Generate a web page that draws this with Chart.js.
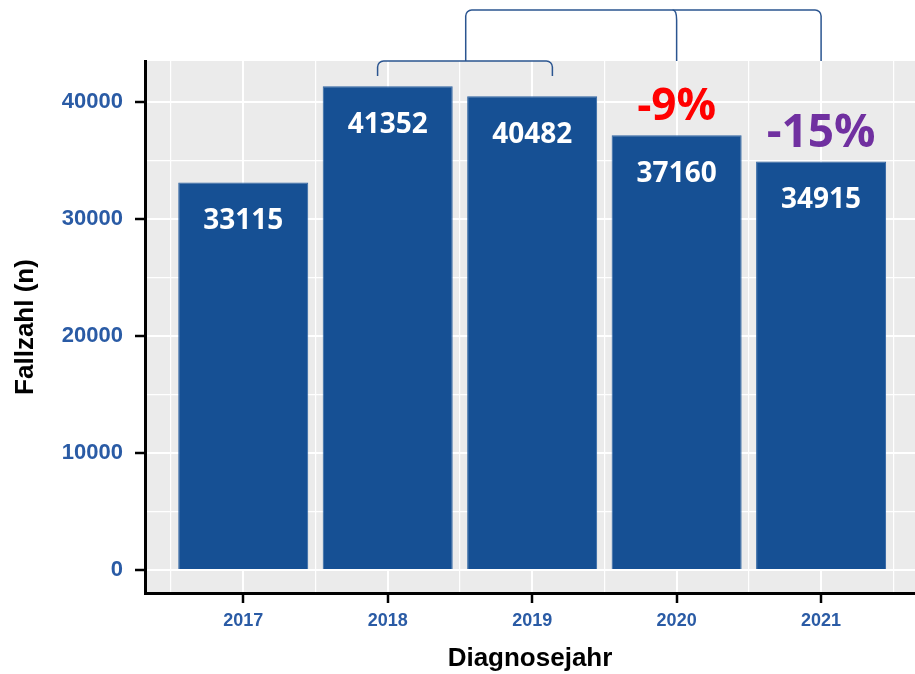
<!DOCTYPE html>
<html>
<head>
<meta charset="utf-8">
<script src="https://cdn.jsdelivr.net/npm/chart.js@4.4.1/dist/chart.umd.min.js"></script>
<style>
  html, body { margin: 0; padding: 0; background: #fff; }
  #wrap { width: 915px; height: 674px; }
</style>
</head>
<body>
<div id="wrap"><canvas id="chart" width="915" height="674"></canvas></div>
<script>
// values
const years = [2017, 2018, 2019, 2020, 2021];
const cases = [33115, 41352, 40482, 37160, 34915];
const changeLabels = ['', '', '', '-9%', '-15%'];
const yTickLabels = [0, 10000, 20000, 30000, 40000];
// brackets above the bars, in year units
const lowerBracket = [2017.93, 2019.14];
const upperBracket = [2018.54, 2020, 2021];

const BLUE = '#165094';
const TICK_BLUE = '#2A5BA5';
const changeColors = { '-9%': '#FF0000', '-15%': '#7030A0' };
const changeSizes = { '-9%': 44, '-15%': 46 };

// major ticks + half-way minor grid lines (ggplot style)
function withMinor(major, step) {
  const out = [];
  major.forEach(v => { out.push(v - step / 2, v); });
  out.push(major[major.length - 1] + step / 2);
  return out;
}
const xGrid = withMinor(years, 1);
const yGrid = withMinor(yTickLabels, 10000).filter(v => v >= 0 && v <= 40000);

const isMajorX = v => years.includes(v);
const isMajorY = v => yTickLabels.includes(v);

// grey panel
const panelBg = {
  id: 'panelBg',
  beforeDraw(chart) {
    const { ctx, chartArea: a } = chart;
    ctx.save();
    ctx.fillStyle = '#EBEBEB';
    ctx.fillRect(a.left, a.top, a.right - a.left, a.bottom - a.top);
    ctx.restore();
  }
};

// numbers inside bars and percentage labels above
const barLabels = {
  id: 'barLabels',
  afterDatasetsDraw(chart) {
    const ctx = chart.ctx;
    const meta = chart.getDatasetMeta(0);
    ctx.save();
    ctx.textAlign = 'center';
    ctx.textBaseline = 'middle';
    meta.data.forEach((bar, i) => {
      ctx.fillStyle = '#fff';
      ctx.font = 'bold 28px "Open Sans"';
      ctx.fillText(String(cases[i]), bar.x, bar.y + 39);
      const lab = changeLabels[i];
      if (lab) {
        ctx.fillStyle = changeColors[lab];
        ctx.font = 'bold ' + changeSizes[lab] + 'px "Open Sans"';
        ctx.fillText(lab, bar.x, bar.y - 28);
      }
    });
    ctx.restore();
  }
};

// brackets above the panel
const brackets = {
  id: 'brackets',
  afterDraw(chart) {
    const { ctx, chartArea } = chart;
    const x = chart.scales.x;
    const yl = chartArea.top;
    const yTop = 10;
    const r = 6;
    ctx.save();
    ctx.strokeStyle = '#2B5590';
    ctx.lineWidth = 1.5;
    ctx.lineJoin = 'round';

    const a = x.getPixelForValue(lowerBracket[0]);
    const b = x.getPixelForValue(lowerBracket[1]);
    ctx.beginPath();
    ctx.moveTo(a, yl + 15);
    ctx.arcTo(a, yl, a + 12, yl, r);
    ctx.arcTo(b, yl, b, yl + 15, r);
    ctx.lineTo(b, yl + 15);
    ctx.stroke();

    const m = x.getPixelForValue(upperBracket[0]);
    const c1 = x.getPixelForValue(upperBracket[1]);
    const c2 = x.getPixelForValue(upperBracket[2]);
    ctx.beginPath();
    ctx.moveTo(m, yl);
    ctx.arcTo(m, yTop, m + 12, yTop, r);
    ctx.arcTo(c2, yTop, c2, yTop + 12, r);
    ctx.lineTo(c2, yl);
    ctx.stroke();

    ctx.beginPath();
    ctx.moveTo(c1 - 4, yTop);
    ctx.quadraticCurveTo(c1, yTop, c1, yTop + 10);
    ctx.lineTo(c1, yl);
    ctx.stroke();
    ctx.restore();
  }
};

new Chart(document.getElementById('chart'), {
  type: 'bar',
  data: {
    datasets: [{
      data: years.map((yr, i) => ({ x: yr, y: cases[i] })),
      backgroundColor: BLUE,
      borderColor: '#2E64A3',
      borderWidth: 1,
      // tick spacing is half a year, so 1.8 gives 0.9 of a year
      barPercentage: 1.8,
      categoryPercentage: 1
    }]
  },
  options: {
    responsive: false,
    devicePixelRatio: 1,
    animation: false,
    layout: { padding: { top: 61, left: 0, right: 0, bottom: 0 } },
    plugins: { legend: { display: false }, tooltip: { enabled: false } },
    scales: {
      x: {
        type: 'linear',
        min: 2016.32,
        max: 2021.65,
        offset: false,
        afterBuildTicks: s => { s.ticks = xGrid.map(v => ({ value: v })); },
        grid: {
          offset: false,
          color: '#FFFFFF',
          lineWidth: c => (c.tick && isMajorX(c.tick.value)) ? 2 : 1.2,
          tickColor: c => (c.tick && isMajorX(c.tick.value)) ? '#000' : 'rgba(0,0,0,0)',
          tickLength: 10,
          tickWidth: 2.5
        },
        border: { display: true, color: '#000', width: 3 },
        ticks: {
          autoSkip: false,
          maxRotation: 0,
          padding: 7,
          color: TICK_BLUE,
          font: { family: 'Liberation Sans', size: 18, weight: 'bold' },
          callback: v => isMajorX(v) ? String(v) : ''
        },
        title: {
          display: true,
          text: 'Diagnosejahr',
          color: '#000',
          font: { family: 'Liberation Sans', size: 26, weight: 'bold' },
          padding: { top: 0, bottom: 0 }
        },
        afterFit: s => { s.height = 81; }
      },
      y: {
        min: -1970,
        max: 43500,
        afterBuildTicks: s => { s.ticks = yGrid.map(v => ({ value: v })); },
        grid: {
          color: '#FFFFFF',
          lineWidth: c => (c.tick && isMajorY(c.tick.value)) ? 2 : 1.2,
          tickColor: c => (c.tick && isMajorY(c.tick.value)) ? '#000' : 'rgba(0,0,0,0)',
          tickLength: 10,
          tickWidth: 2.5
        },
        border: { display: true, color: '#000', width: 3 },
        ticks: {
          autoSkip: false,
          padding: 12,
          color: TICK_BLUE,
          font: { family: 'Liberation Sans', size: 22, weight: 'bold' },
          callback: v => isMajorY(v) ? String(v) : ''
        },
        title: {
          display: true,
          text: 'Fallzahl (n)',
          color: '#000',
          font: { family: 'Liberation Sans', size: 26, weight: 'bold' },
          padding: { top: 10, bottom: 0 }
        },
        afterFit: s => { s.width = 145; }
      }
    }
  },
  plugins: [panelBg, barLabels, brackets]
});
</script>
</body>
</html>
